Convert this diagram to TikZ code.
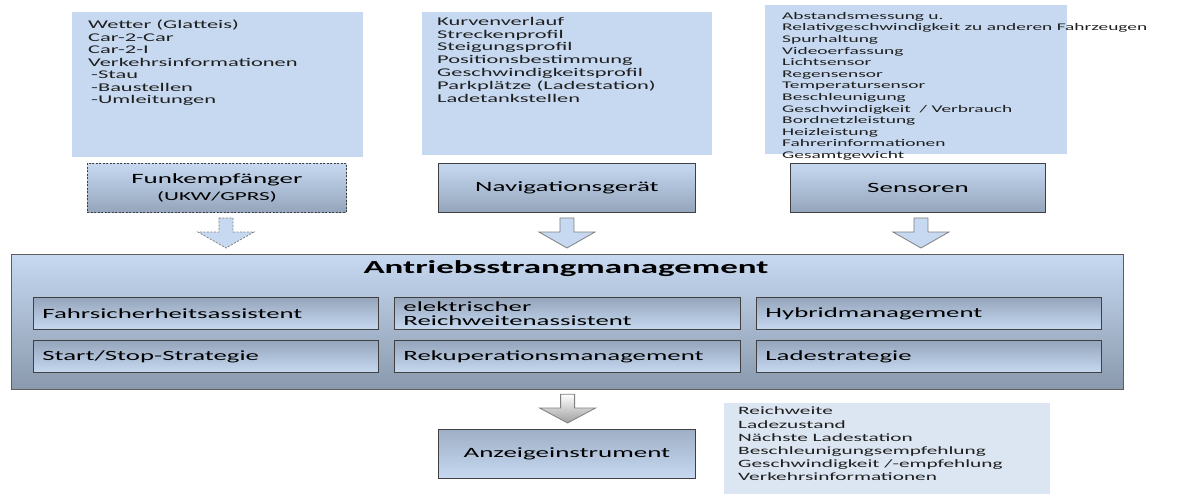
\documentclass[tikz,border=0pt]{standalone}
\usepackage{fontspec}
\setmainfont{Carlito}[FakeStretch=1.9]
\usetikzlibrary{calc}
\definecolor{listblue}{HTML}{C6D9F1}
\definecolor{listlight}{HTML}{DCE6F2}
\definecolor{boxgray}{HTML}{95A5BB}
\definecolor{maingray}{HTML}{8A99AD}
\definecolor{edge}{HTML}{404040}
\definecolor{arrowedge}{HTML}{7F7F7F}
\newcommand\blockarr[4]{%
  \path[#1] let \p1=(#2.south), \p2=(#3.north) in
  ({\x1+#4-7pt},{\y1-5pt}) -- ({\x1+#4+7pt},{\y1-5pt}) -- ({\x1+#4+7pt},{\y2+22pt})
  -- ({\x1+#4+28pt},{\y2+22pt}) -- ({\x1+#4},{\y2+6pt}) -- ({\x1+#4-28pt},{\y2+22pt})
  -- ({\x1+#4-7pt},{\y2+22pt}) -- cycle;}
\begin{document}
\begin{tikzpicture}[x=1pt,y=-1pt,
  listbox/.style={fill=listblue, draw=none, anchor=north west, inner sep=0pt, outer sep=0pt},
  listtext/.style={align=left, inner sep=0pt, anchor=north west, text=black!88},
  nodebox/.style={draw=edge, line width=0.9pt, top color=listblue, bottom color=boxgray,
    anchor=north west, inner sep=0pt, minimum width=257pt, minimum height=49pt,
    font=\fontsize{14.2}{16}\selectfont, align=center},
  mainbox/.style={draw=edge!85, line width=1.2pt, top color=listblue, bottom color=maingray,
    anchor=north west, inner sep=0pt, minimum width=1112pt, minimum height=135pt},
  innerbox/.style={draw=edge, line width=0.9pt, top color=boxgray, bottom color=listblue,
    anchor=north west, inner xsep=9pt, inner ysep=0pt, minimum height=32pt,
    text width=327pt, align=left, font=\fontsize{14.1}{15.5}\selectfont},
  arr/.style={fill=listblue, draw=arrowedge, line width=0.8pt, line join=miter},
  grayarr/.style={top color=white, bottom color=black!38, draw=arrowedge, line width=0.8pt}
]
\useasboundingbox (0,0) rectangle (1194,496);
% input lists
\node[listbox, minimum width=291pt, minimum height=145pt] (l1) at (72,12) {};
\node[listtext, font=\fontsize{11.8}{12.5}\selectfont] (t1) at (88,20)
  {Wetter (Glatteis)\\Car-2-Car\\Car-2-I\\Verkehrsinformationen\\\hspace*{3pt}-Stau\\\hspace*{3pt}-Baustellen\\\hspace*{3pt}-Umleitungen};
\node[listbox, minimum width=290pt, minimum height=143pt] (l2) at (422,12) {};
\node[listtext, font=\fontsize{11.8}{12.8}\selectfont] (t2) at (437,17)
  {Kurvenverlauf\\Streckenprofil\\Steigungsprofil\\Positionsbestimmung\\Geschwindigkeitsprofil\\Parkplätze (Ladestation)\\Ladetankstellen};
\node[listbox, minimum width=302pt, minimum height=149pt] (l3) at (765,5) {};
\node[listtext, font=\fontsize{10.2}{11.6}\selectfont] (t3) at (782,12)
  {Abstandsmessung u.\\Relativgeschwindigkeit zu anderen Fahrzeugen\\Spurhaltung\\Videoerfassung\\Lichtsensor\\Regensensor\\Temperatursensor\\Beschleunigung\\Geschwindigkeit~ / Verbrauch\\Bordnetzleistung\\Heizleistung\\Fahrerinformationen\\Gesamtgewicht};
% sources
\node[nodebox, dash pattern=on 2pt off 1.5pt, minimum width=259pt] (funk) at (87,163)
  {Funkempfänger\\[1pt]{\fontsize{12.2}{13}\selectfont (UKW/GPRS)}};
\node[nodebox] (nav) at (438,163) {Navigationsgerät};
\node[nodebox, minimum width=255pt] (sens) at (790,163) {Sensoren};
% main block
\node[mainbox] (main) at (11,254) {};
\node[font=\bfseries\fontsize{18.4}{20}\selectfont] (title) at (566,269) {Antriebsstrangmanagement};
\node[innerbox] (fsa) at (33,297) {Fahrsicherheitsassistent};
\node[innerbox, text width=328pt] (era) at (394,297) {elektrischer\\[-1.5pt]Reichweitenassistent};
\node[innerbox] (hyb) at (756,297) {Hybridmanagement};
\node[innerbox] (sss) at (33,340) {Start/Stop-Strategie};
\node[innerbox, text width=328pt] (rek) at (394,340) {Rekuperationsmanagement};
\node[innerbox] (lad) at (756,340) {Ladestrategie};
% output
\node[nodebox, top color=boxgray!80!listblue, bottom color=listblue] (anz) at (438,429) {Anzeigeinstrument};
\node[listbox, fill=listlight, minimum width=326pt, minimum height=91pt] (l4) at (724,403) {};
\node[listtext, font=\fontsize{11.2}{13.2}\selectfont] (t4) at (738,407)
  {Reichweite\\Ladezustand\\Nächste Ladestation\\Beschleunigungsempfehlung\\Geschwindigkeit /-empfehlung\\Verkehrsinformationen};
% block arrows
\blockarr{arr, dash pattern=on 2pt off 1.5pt}{funk}{main}{9pt}
\blockarr{arr}{nav}{main}{0pt}
\blockarr{arr}{sens}{main}{3pt}
\path[grayarr] let \p1=(main.south), \p2=(anz.north) in
  ({\x1-7pt},{\y1-4pt}) -- ({\x1+7pt},{\y1-4pt}) -- ({\x1+7pt},{\y2+21pt})
  -- ({\x1+28pt},{\y2+21pt}) -- ({\x1},{\y2+6pt}) -- ({\x1-28pt},{\y2+21pt})
  -- ({\x1-7pt},{\y2+21pt}) -- cycle;
\end{tikzpicture}
\end{document}
